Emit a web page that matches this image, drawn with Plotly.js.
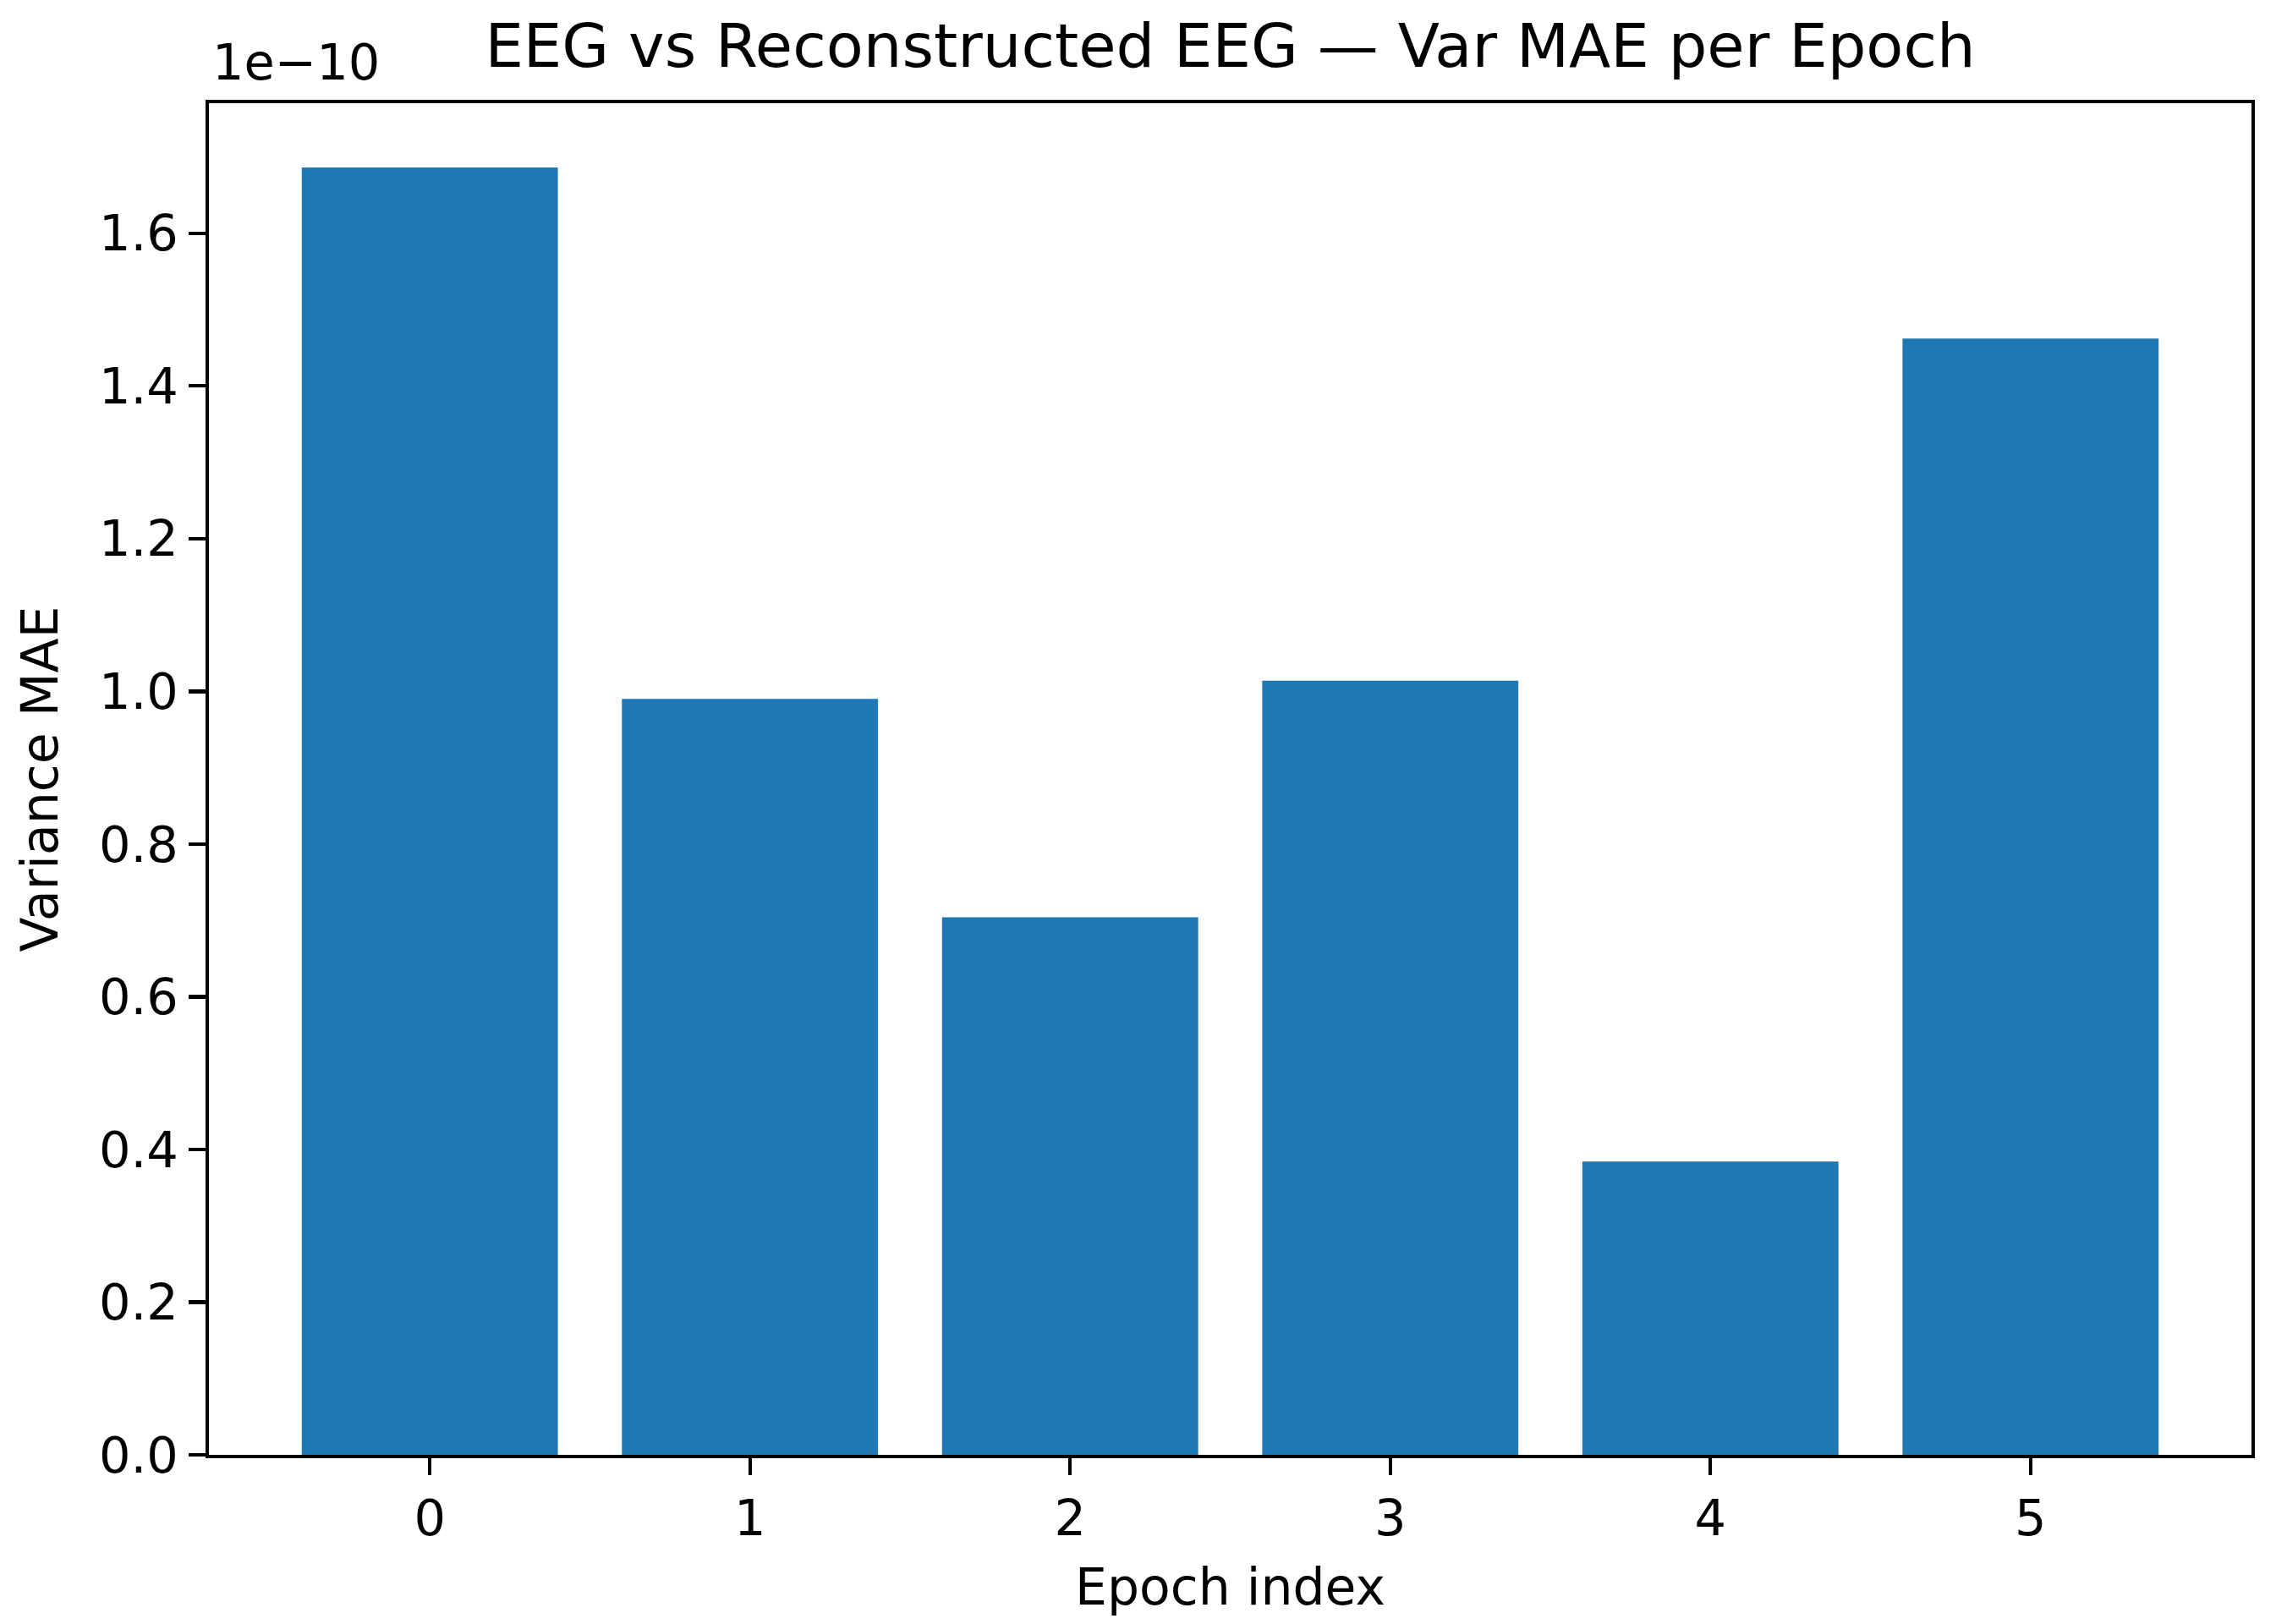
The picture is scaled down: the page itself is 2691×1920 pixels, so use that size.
<!DOCTYPE html>
<html>
<head>
<meta charset="utf-8">
<script src="https://cdn.plot.ly/plotly-3.0.1.min.js"></script>
<style>html,body{margin:0;padding:0;background:#fff;}#chart{width:2691px;height:1920px;}</style>
</head>
<body>
<div id="chart"></div>
<script>
const epochs = [0, 1, 2, 3, 4, 5];
const varMAE = [1.686e-10, 0.990e-10, 0.704e-10, 1.014e-10, 0.384e-10, 1.462e-10];
const yTickValues = [0, 0.2e-10, 0.4e-10, 0.6e-10, 0.8e-10, 1.0e-10, 1.2e-10, 1.4e-10, 1.6e-10];
const yTickLabels = ["0.0", "0.2", "0.4", "0.6", "0.8", "1.0", "1.2", "1.4", "1.6"];
const xTickLabels = ["0", "1", "2", "3", "4", "5"];

const font = {family: "DejaVu Sans", color: "#000"};
const maxV = Math.max(...varMAE);

Plotly.newPlot("chart", [{
  type: "bar",
  x: epochs,
  y: varMAE,
  width: 0.8,
  marker: {color: "#1f77b4", line: {width: 0}},
  hoverinfo: "none"
}], {
  width: 2691, height: 1920,
  margin: {l: 247, r: 29, t: 122, b: 200},
  paper_bgcolor: "#fff", plot_bgcolor: "#fff",
  showlegend: false,
  title: {text: "EEG vs Reconstructed EEG — Var MAE per Epoch", font: {...font, size: 72}, xref: "paper", x: 0.5, xanchor: "center", yref: "container", y: 0.972, yanchor: "middle"},
  xaxis: {
    range: [-0.69, 5.69], tickvals: epochs, ticktext: xTickLabels,
    showgrid: false, zeroline: false, showline: true, mirror: true, linecolor: "#000", linewidth: 4.4,
    ticks: "outside", ticklen: 20, tickwidth: 4.4, tickcolor: "#000",
    tickfont: {...font, size: 59},
    title: {text: "Epoch index", font: {...font, size: 60}, standoff: 28}
  },
  yaxis: {
    range: [0, maxV * 1.05], tickvals: yTickValues, ticktext: yTickLabels,
    showgrid: false, zeroline: false, showline: true, mirror: true, linecolor: "#000", linewidth: 4.4,
    ticks: "outside", ticklen: 20, tickwidth: 4.4, tickcolor: "#000",
    tickfont: {...font, size: 59},
    title: {text: "Variance MAE", font: {...font, size: 60}, standoff: 30}
  },
  annotations: [{
    text: "1e−10", xref: "paper", yref: "paper", x: 0, y: 1, xanchor: "left", yanchor: "bottom",
    xshift: 2, yshift: 12, showarrow: false, font: {...font, size: 59}
  }]
}, {staticPlot: true});
</script>
</body>
</html>
